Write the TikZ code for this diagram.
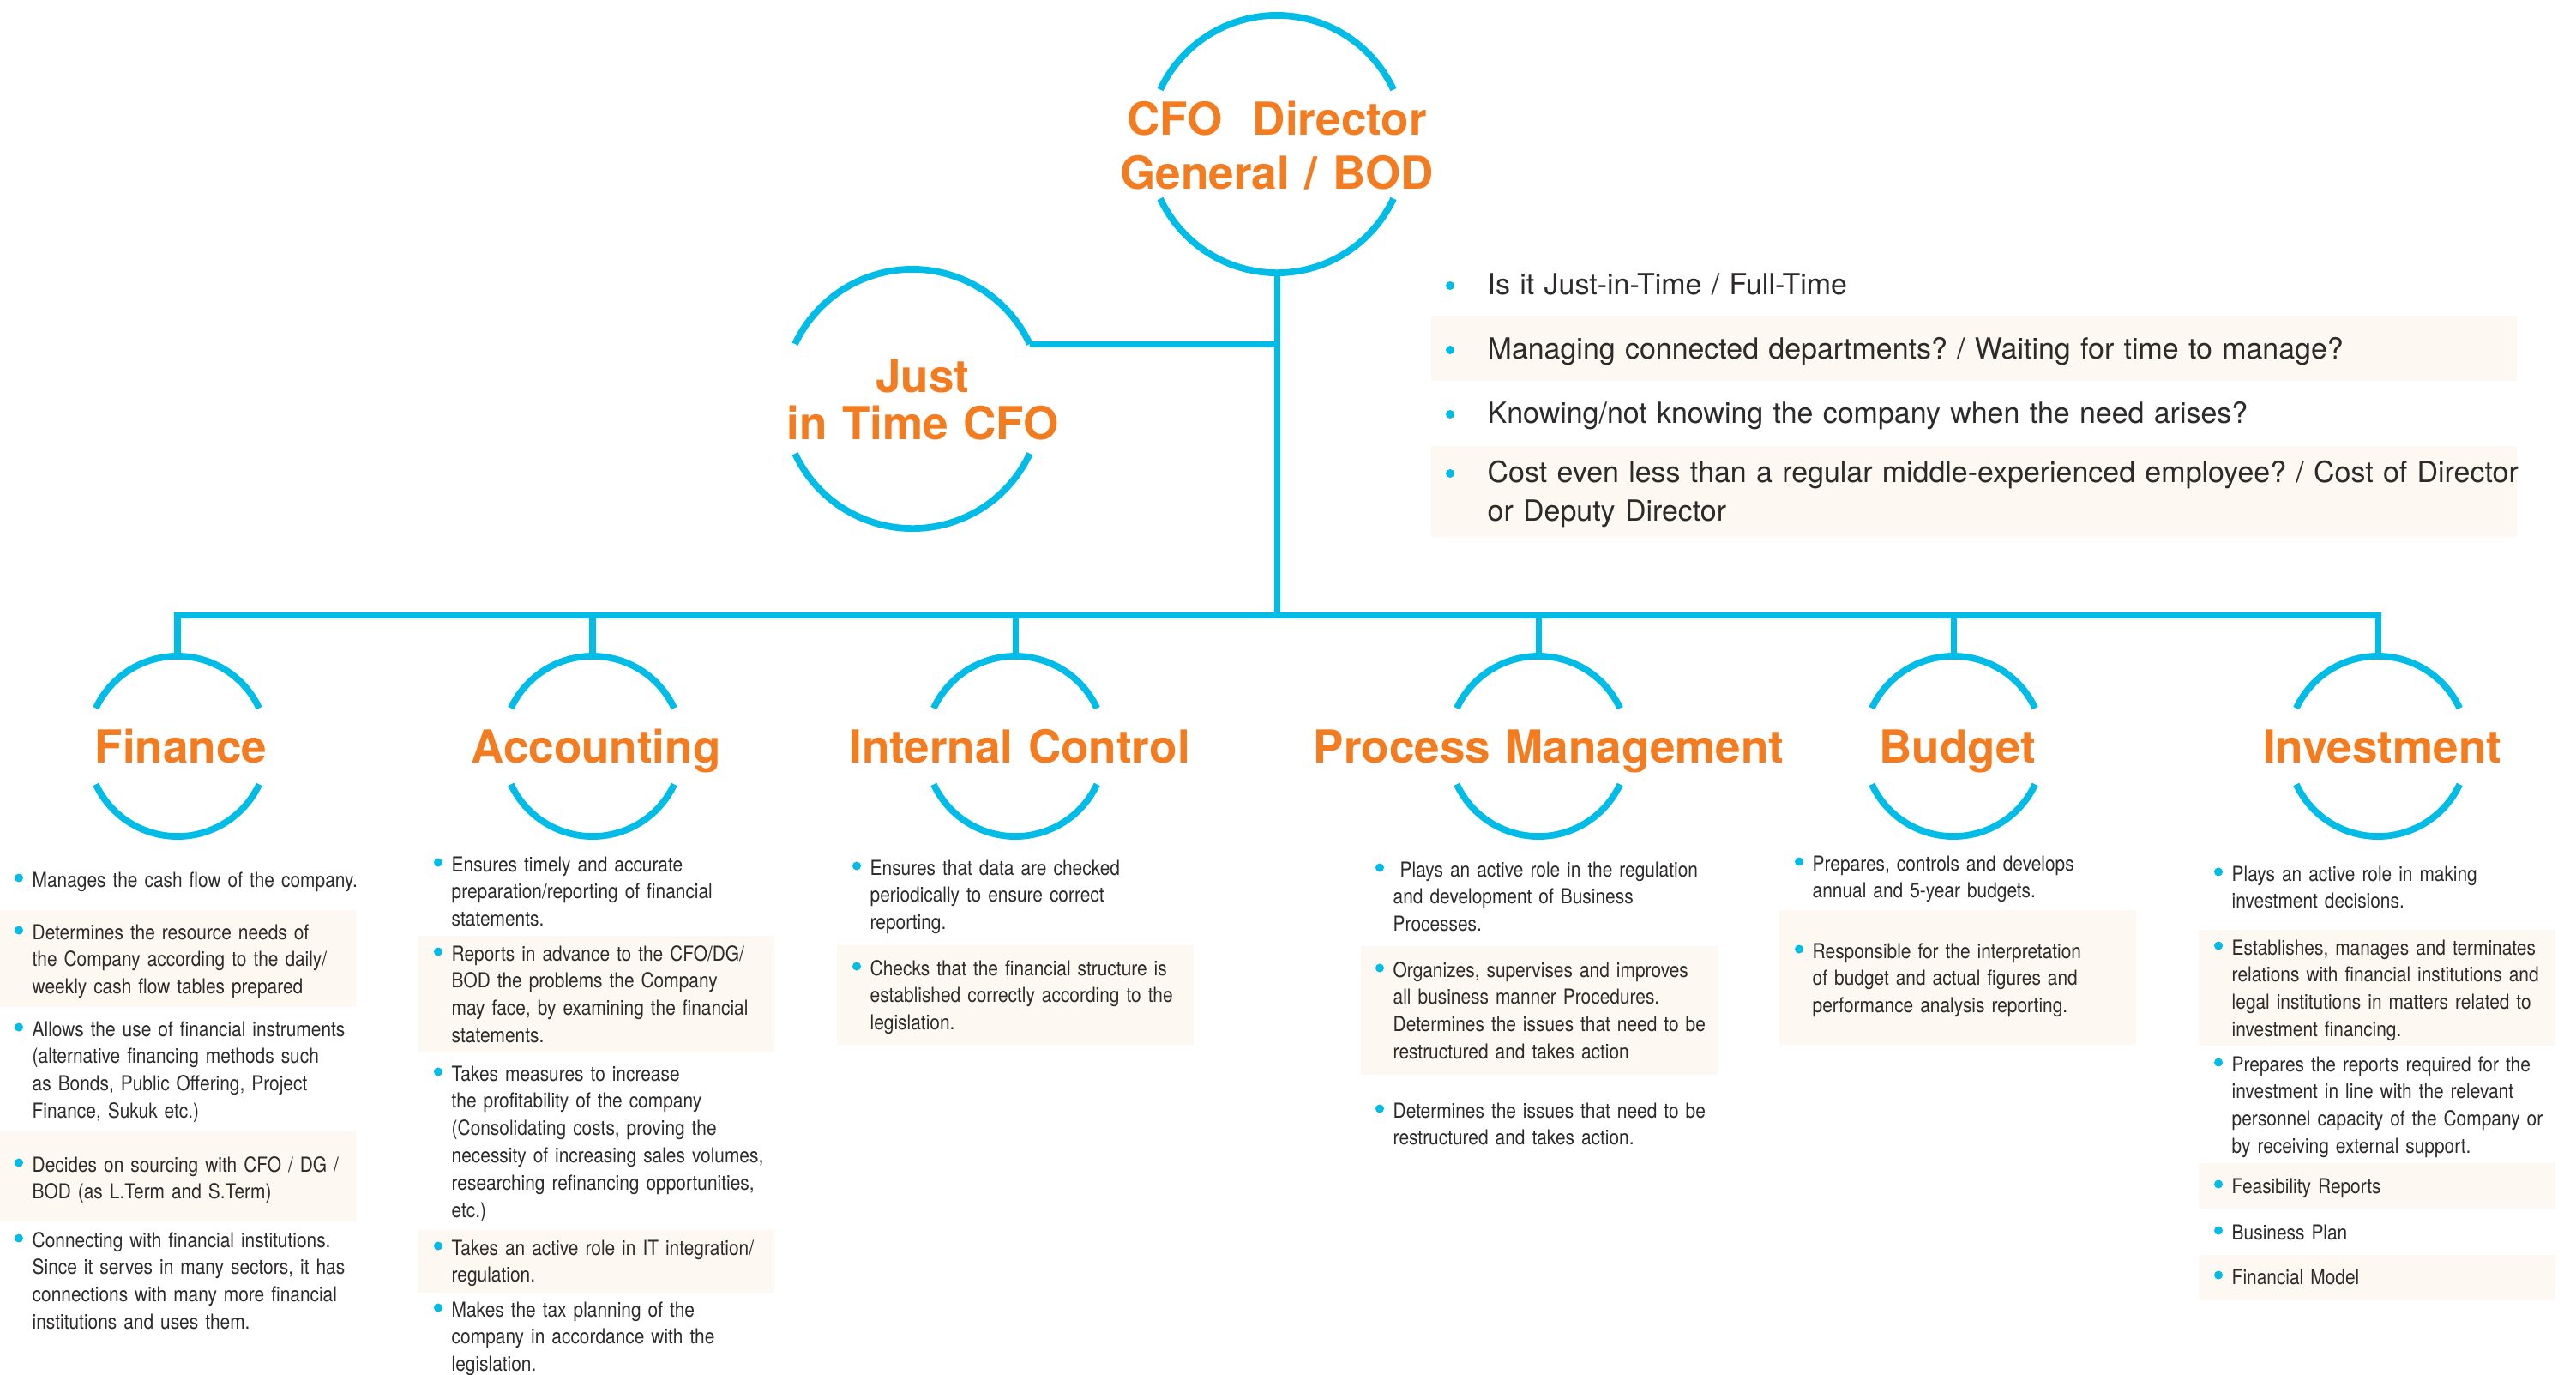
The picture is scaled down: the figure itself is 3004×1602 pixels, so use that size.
\documentclass[tikz,border=0pt]{standalone}
\usepackage{fontspec}
\setmainfont{TeX Gyre Heros}
\newfontfamily\condfont[FakeStretch=0.87]{TeX Gyre Heros}
\definecolor{ringblue}{RGB}{0,188,231}
\definecolor{headorange}{RGB}{244,124,32}
\definecolor{boxfill}{RGB}{253,248,242}
\definecolor{bodytext}{RGB}{45,42,42}
\frenchspacing
\tikzset{
  ring/.style={circle, inner sep=0pt, outer sep=0pt},
  arcline/.style={draw=ringblue, line width=2.2pt},
  conn/.style={draw=ringblue, line width=2pt},
  head/.style={text=headorange, font=\bfseries\fontsize{15.08pt}{17.93pt}\selectfont, inner sep=0pt, anchor=base, text width=7cm, align=center},
  small/.style={text=bodytext, font=\condfont\fontsize{6.83pt}{9.05pt}\selectfont\frenchspacing, inner sep=0pt, anchor=base west, text width=4.6cm, align=left},
  big/.style={text=bodytext, font=\fontsize{9.65pt}{12.8pt}\selectfont\frenchspacing, inner sep=0pt, anchor=base west, text width=12.6cm, align=left},
  shade/.style={fill=boxfill},
  dot/.style={fill=ringblue}
}
\newcommand\ringarcs[2]{%
  \draw[arcline] (#1.25) arc[start angle=25, end angle=155, radius=#2];
  \draw[arcline] (#1.205) arc[start angle=205, end angle=335, radius=#2];}
\newcommand\bitem[4]{%
  \node[small] (#1) at (#2,#3) {#4};
  \fill[dot] ([shift={(-15,-10.5)}]#1.base west) circle (0.05cm);}
\newcommand\titem[4]{%
  \node[big] (#1) at (#2,#3) {#4};
  \fill[dot] ([shift={(-43,-10)}]#1.base west) circle (0.05cm);}
\begin{document}
\begin{tikzpicture}[x=0.01cm, y=-0.01cm]
\fill[white] (0,0) rectangle (3004,1602);
\useasboundingbox (0,0) rectangle (3004,1602);

% shaded backgrounds
\fill[shade] (1669,368) rectangle (2935,444);
\fill[shade] (1669,520) rectangle (2935,626);
\fill[shade] (0,1061) rectangle (415,1174);
\fill[shade] (0,1319) rectangle (415,1424);
\fill[shade] (488,1091) rectangle (903,1227);
\fill[shade] (488,1434) rectangle (903,1507);
\fill[shade] (976,1102) rectangle (1392,1218);
\fill[shade] (1587,1103) rectangle (2003,1253);
\fill[shade] (2075,1061) rectangle (2491,1218);
\fill[shade] (2564,1084) rectangle (2980,1219);
\fill[shade] (2564,1356) rectangle (2980,1409);
\fill[shade] (2564,1463) rectangle (2980,1515);

% circles
\node[ring, minimum size=3cm] (top) at (1489,168) {};
\node[ring, minimum size=3.02cm] (jit) at (1064,465) {};
\node[ring, minimum size=2.1cm] (fin) at (207,870) {};
\node[ring, minimum size=2.1cm] (acc) at (691,870) {};
\node[ring, minimum size=2.1cm] (ctl) at (1184,870) {};
\node[ring, minimum size=2.1cm] (pro) at (1794,870) {};
\node[ring, minimum size=2.1cm] (bud) at (2278,870) {};
\node[ring, minimum size=2.1cm] (inv) at (2773,870) {};
\ringarcs{top}{1.5cm}
\ringarcs{jit}{1.51cm}
\foreach \n in {fin,acc,ctl,pro,bud,inv} {\ringarcs{\n}{1.05cm}}

% connectors
\coordinate (bus) at (1489,717);
\draw[conn] (top.south) -- (bus);
\draw[conn] (jit.25) -- (jit.25 -| top.south);
\draw[conn] (fin.north) -- (fin.north |- bus) -- (inv.north |- bus) -- (inv.north);
\foreach \n in {acc,ctl,pro,bud} {\draw[conn] (\n.north) -- (\n.north |- bus);}

% headings
\node[head] (toptxt) at (1489,157) {CFO\ \ Director\\General / BOD};
\node[head, font=\bfseries\fontsize{15.08pt}{15.65pt}\selectfont] (jittxt) at (1076,457) {Just\\in Time CFO};
\node[head] (finT) at (211,889) {Finance};
\node[head] (accT) at (695,889) {Accounting};
\node[head] (ctlT) at (1189,889) {Internal Control};
\node[head] (proT) at (1806,889) {Process Management};
\node[head] (budT) at (2283,889) {Budget};
\node[head] (invT) at (2778,889) {Investment};

% top list
\titem{t1}{1734}{343}{Is it Just-in-Time / Full-Time}
\titem{t2}{1734}{418}{Managing connected departments? / Waiting for time to manage?}
\titem{t3}{1734}{493}{Knowing/not knowing the company when the need arises?}
\titem{t4}{1734}{562}{Cost even less than a regular middle-experienced employee? / Cost of Director\\or Deputy Director}

% Finance
\bitem{f1}{37}{1034}{Manages the cash flow of the company.}
\bitem{f2}{37}{1095}{Determines the resource needs of\\the Company according to the daily/\\weekly cash flow tables prepared}
\bitem{f3}{37}{1208}{Allows the use of financial instruments\\(alternative financing methods such\\as Bonds, Public Offering, Project\\Finance, Sukuk etc.)}
\bitem{f4}{37}{1366}{Decides on sourcing with CFO / DG /\\BOD (as L.Term and S.Term)}
\bitem{f5}{37}{1454}{Connecting with financial institutions.\\Since it serves in many sectors, it has\\connections with many more financial\\institutions and uses them.}

% Accounting
\bitem{a1}{526}{1016}{Ensures timely and accurate\\preparation/reporting of financial\\statements.}
\bitem{a2}{526}{1120}{Reports in advance to the CFO/DG/\\BOD the problems the Company\\may face, by examining the financial\\statements.}
\bitem{a3}{526}{1260}{Takes measures to increase\\the profitability of the company\\(Consolidating costs, proving the\\necessity of increasing sales volumes,\\researching refinancing opportunities,\\etc.)}
\bitem{a4}{526}{1463}{Takes an active role in IT integration/\\regulation.}
\bitem{a5}{526}{1535}{Makes the tax planning of the\\company in accordance with the\\legislation.}

% Internal Control
\bitem{c1}{1014}{1020}{Ensures that data are checked\\periodically to ensure correct\\reporting.}
\bitem{c2}{1014}{1137}{Checks that the financial structure is\\established correctly according to the\\legislation.}

% Process Management
\bitem{p1}{1624}{1022}{\ Plays an active role in the regulation\\and development of Business\\Processes.}
\bitem{p2}{1624}{1139}{Organizes, supervises and improves\\all business manner Procedures.\\Determines the issues that need to be\\restructured and takes action}
\bitem{p3}{1624}{1303}{Determines the issues that need to be\\restructured and takes action.}

% Budget
\bitem{b1}{2113}{1015}{Prepares, controls and develops\\annual and 5-year budgets.}
\bitem{b2}{2113}{1117}{Responsible for the interpretation\\of budget and actual figures and\\performance analysis reporting.}

% Investment
\bitem{v1}{2602}{1027}{Plays an active role in making\\investment decisions.}
\bitem{v2}{2602}{1113}{Establishes, manages and terminates\\relations with financial institutions and\\legal institutions in matters related to\\investment financing.}
\bitem{v3}{2602}{1249}{Prepares the reports required for the\\investment in line with the relevant\\personnel capacity of the Company or\\by receiving external support.}
\bitem{v4}{2602}{1391}{Feasibility Reports}
\bitem{v5}{2602}{1445}{Business Plan}
\bitem{v6}{2602}{1497}{Financial Model}
\end{tikzpicture}
\end{document}
